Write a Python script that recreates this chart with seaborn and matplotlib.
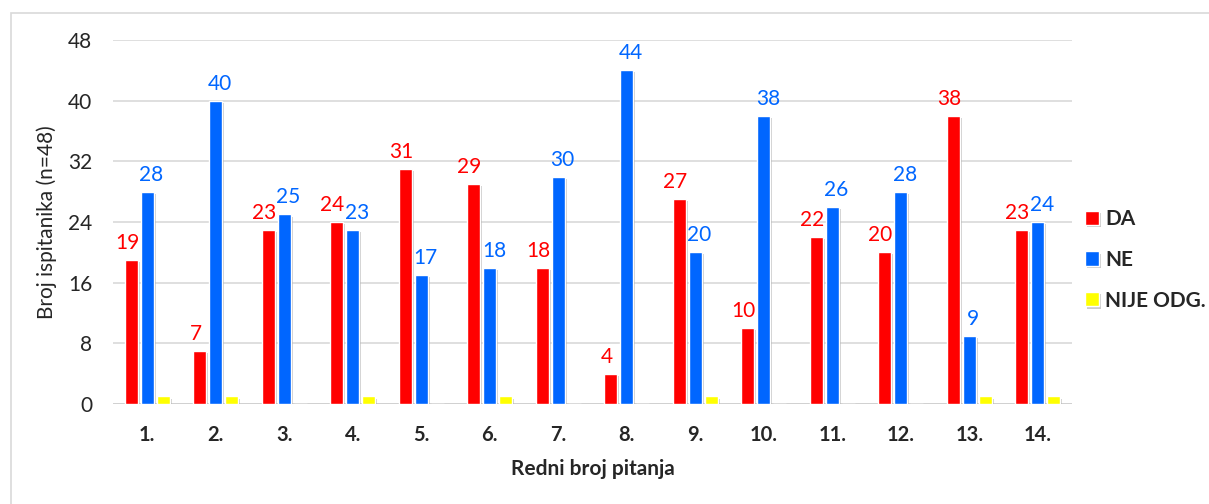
import pandas as pd
import numpy as np
import matplotlib
matplotlib.use("Agg")
import matplotlib.pyplot as plt
import matplotlib.patheffects as pe
from matplotlib.patches import Rectangle
import seaborn as sns

pitanja = ['1.', '2.', '3.', '4.', '5.', '6.', '7.', '8.', '9.', '10.', '11.', '12.', '13.', '14.']
da = [19, 7, 23, 24, 31, 29, 18, 4, 27, 10, 22, 20, 38, 23]
ne = [28, 40, 25, 23, 17, 18, 30, 44, 20, 38, 26, 28, 9, 24]
nije_odg = [1, 1, 0, 1, 0, 1, 0, 0, 1, 0, 0, 0, 1, 1]
odgovori = ['DA', 'NE', 'NIJE ODG.']
boje = ['#FF0000', '#0066FF', '#FFFF00']

df = pd.DataFrame({'pitanje': pitanja * 3,
                   'odgovor': np.repeat(odgovori, len(pitanja)),
                   'broj': da + ne + nije_odg})

sns.set_style('white')
plt.rcParams['font.family'] = ['Lato', 'DejaVu Sans']

fig = plt.figure(figsize=(12.09, 5.04), dpi=100)
ax = fig.add_axes([113 / 1209, 100 / 504, (1072 - 113) / 1209, 364 / 504])

# outer chart frame
fig.patches.append(Rectangle((11 / 1209, -0.05), 1.1, (504 - 13) / 504 + 0.05,
                             transform=fig.transFigure, fill=False,
                             edgecolor='#d9d9d9', lw=1.2, zorder=0))

sns.barplot(data=df, x='pitanje', y='broj', hue='odgovor', palette=boje,
            width=0.70, gap=0.19, ax=ax, legend=True, saturation=1)

shadow = [pe.SimplePatchShadow(offset=(1.5, -1.5), shadow_rgbFace='#999999', alpha=0.5), pe.Normal()]
for bar in ax.patches:
    bar.set_path_effects(shadow)
    bar.set_zorder(3)

# data labels, red nudged left and blue nudged right like Excel does
for cont, col, dx in zip(ax.containers[:2], boje[:2], [-3, 3]):
    for bar in cont:
        h = bar.get_height()
        ax.annotate(f'{h:.0f}', (bar.get_x() + bar.get_width() / 2, h),
                    xytext=(dx, 5), textcoords='offset points',
                    ha='center', va='bottom', color=col, fontsize=15)

ax.set_ylim(0, 48)
ax.set_yticks(range(0, 49, 8))
ax.grid(axis='y', color='#d9d9d9', lw=1.2, zorder=0)
ax.axhline(0, color='#d0d0d0', lw=2, zorder=2,
           path_effects=[pe.SimpleLineShadow(offset=(0, -1.5), alpha=0.3), pe.Normal()])
sns.despine(ax=ax, left=True, bottom=True)
ax.tick_params(axis='both', length=0)
ax.tick_params(axis='y', labelsize=15, pad=15)
ax.tick_params(axis='x', labelsize=14.5, pad=15)
for t in ax.get_xticklabels():
    t.set_fontweight('bold')

ax.set_ylabel('Broj ispitanika (n=48)', fontsize=15, labelpad=8)
ax.set_xlabel('Redni broj pitanja', fontsize=15, fontweight='bold', labelpad=10)

handles, labels = ax.get_legend_handles_labels()
ax.legend(handles, labels, loc='center left', bbox_to_anchor=(1.0136, 0.396),
          frameon=False, borderpad=0, borderaxespad=0,
          handlelength=0.67, handleheight=0.67, handletextpad=0.3,
          labelspacing=1.0, prop={'size': 15, 'weight': 'bold'})

fig.savefig('out.png', dpi=100)
